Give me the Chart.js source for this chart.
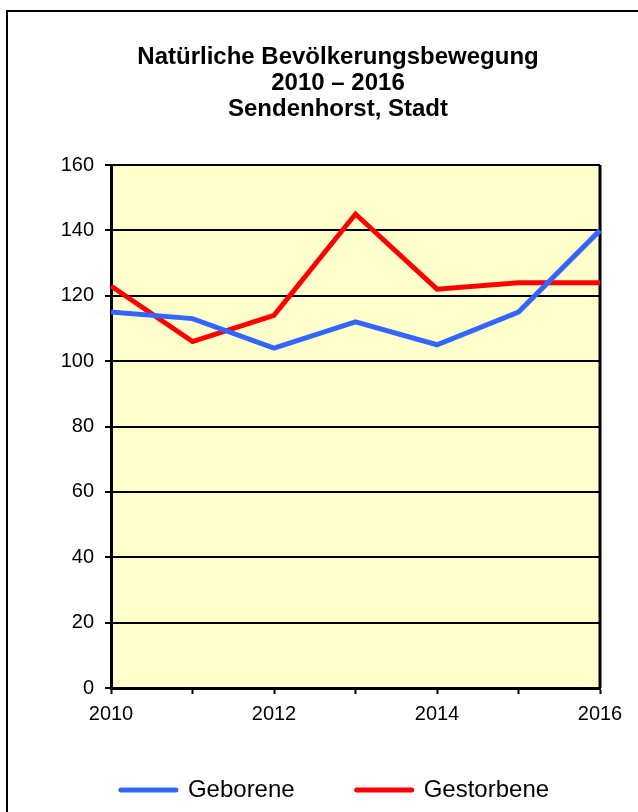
<!DOCTYPE html>
<html>
<head>
<meta charset="utf-8">
<script src="https://cdn.jsdelivr.net/npm/chart.js@4/dist/chart.umd.min.js"></script>
<style>
  html, body { margin: 0; padding: 0; background: #fff; overflow: hidden; }
  #frame { position: absolute; left: 6px; top: 10px; width: 700px; height: 900px; border: 2px solid #000; }
  #chart { position: absolute; left: 0; top: 0; }
</style>
</head>
<body>
<div id="frame"></div>
<canvas id="chart" width="638" height="812"></canvas>
<script>
// chart data
const years = ["2010", "2011", "2012", "2013", "2014", "2015", "2016"];
const geborene = [115, 113, 104, 112, 105, 115, 140];
const gestorbene = [123, 106, 114, 145, 122, 124, 124];
const yTicks = [0, 20, 40, 60, 80, 100, 120, 140, 160];
const titleLines = ["Natürliche Bevölkerungsbewegung", "2010 – 2016", "Sendenhorst, Stadt"];

Chart.defaults.font.family = '"Liberation Sans", Arial, sans-serif';
Chart.defaults.color = "#000";

// yellow plot background + right border of the plot area
const plotBox = {
  id: "plotBox",
  beforeDraw(chart) {
    const { ctx, chartArea: a } = chart;
    ctx.save();
    ctx.fillStyle = "#FFFFCC";
    ctx.fillRect(a.left, a.top, a.right - a.left, a.bottom - a.top);
    ctx.restore();
  },
  beforeDatasetsDraw(chart) {
    const { ctx, chartArea: a } = chart;
    ctx.save();
    ctx.strokeStyle = "#000";
    ctx.lineWidth = 3;
    ctx.beginPath();
    ctx.moveTo(a.right, a.top);
    ctx.lineTo(a.right, a.bottom);
    ctx.stroke();
    ctx.restore();
  }
};

// three line title, centred a bit left of the plot
const titleText = {
  id: "titleText",
  afterDraw(chart) {
    const ctx = chart.ctx;
    ctx.save();
    ctx.font = 'bold 24px "Liberation Sans", Arial, sans-serif';
    ctx.fillStyle = "#000";
    ctx.textAlign = "center";
    ctx.textBaseline = "alphabetic";
    titleLines.forEach((line, i) => {
      ctx.fillText(line, 338, 64 + i * 26);
    });
    ctx.restore();
  }
};

// the legend needs wide gaps between items but not the tall box that comes with them
const legendFix = {
  id: "legendFix",
  beforeLayout(chart) {
    const legend = chart.legend;
    if (!legend || legend._patched) return;
    const fit = legend.fit;
    legend.fit = function () {
      fit.call(this);
      this.height = 78;
    };
    legend._patched = true;
  },
  afterLayout(chart) {
    const legend = chart.legend;
    legend.left += 20;
    legend.right += 20;
    legend.top -= 18; // bottom stays, so nothing gets clipped
  }
};

new Chart(document.getElementById("chart"), {
  type: "line",
  data: {
    labels: years,
    datasets: [
      { label: "Geborene", data: geborene, borderColor: "#3366FF", backgroundColor: "#3366FF", borderWidth: 5, pointRadius: 0, tension: 0, fill: false },
      { label: "Gestorbene", data: gestorbene, borderColor: "#FF0000", backgroundColor: "#FF0000", borderWidth: 5, pointRadius: 0, tension: 0, fill: false }
    ]
  },
  options: {
    responsive: false,
    animation: false,
    layout: { padding: { top: 165, left: 30, right: 38, bottom: 0 } },
    plugins: {
      title: { display: false },
      tooltip: { enabled: false },
      legend: {
        position: "bottom",
        labels: {
          usePointStyle: true,
          pointStyle: "line",
          pointStyleWidth: 55,
          padding: 62,
          font: { size: 24 },
          color: "#000",
          generateLabels(chart) {
            return Chart.defaults.plugins.legend.labels.generateLabels(chart)
              .map(item => ({ ...item, lineCap: "round" }));
          }
        }
      }
    },
    scales: {
      x: {
        offset: false,
        grid: { drawOnChartArea: false, drawTicks: true, tickLength: 6, tickColor: "#000", tickWidth: 2 },
        border: { color: "#000", width: 3 },
        ticks: {
          autoSkip: false,
          maxRotation: 0,
          padding: 8,
          font: { size: 20 },
          callback(value, index) {
            return index % 2 === 0 ? this.getLabelForValue(value) : "";
          }
        }
      },
      y: {
        min: yTicks[0],
        max: yTicks[yTicks.length - 1],
        afterFit(scale) { scale.width = 81; },
        afterBuildTicks(scale) { scale.ticks = yTicks.map(v => ({ value: v })); },
        grid: { color: "#000", lineWidth: 2, tickLength: 6, tickColor: "#000" },
        border: { color: "#000", width: 3 },
        ticks: { padding: 11, font: { size: 20 } }
      }
    }
  },
  plugins: [plotBox, titleText, legendFix]
});
</script>
</body>
</html>
